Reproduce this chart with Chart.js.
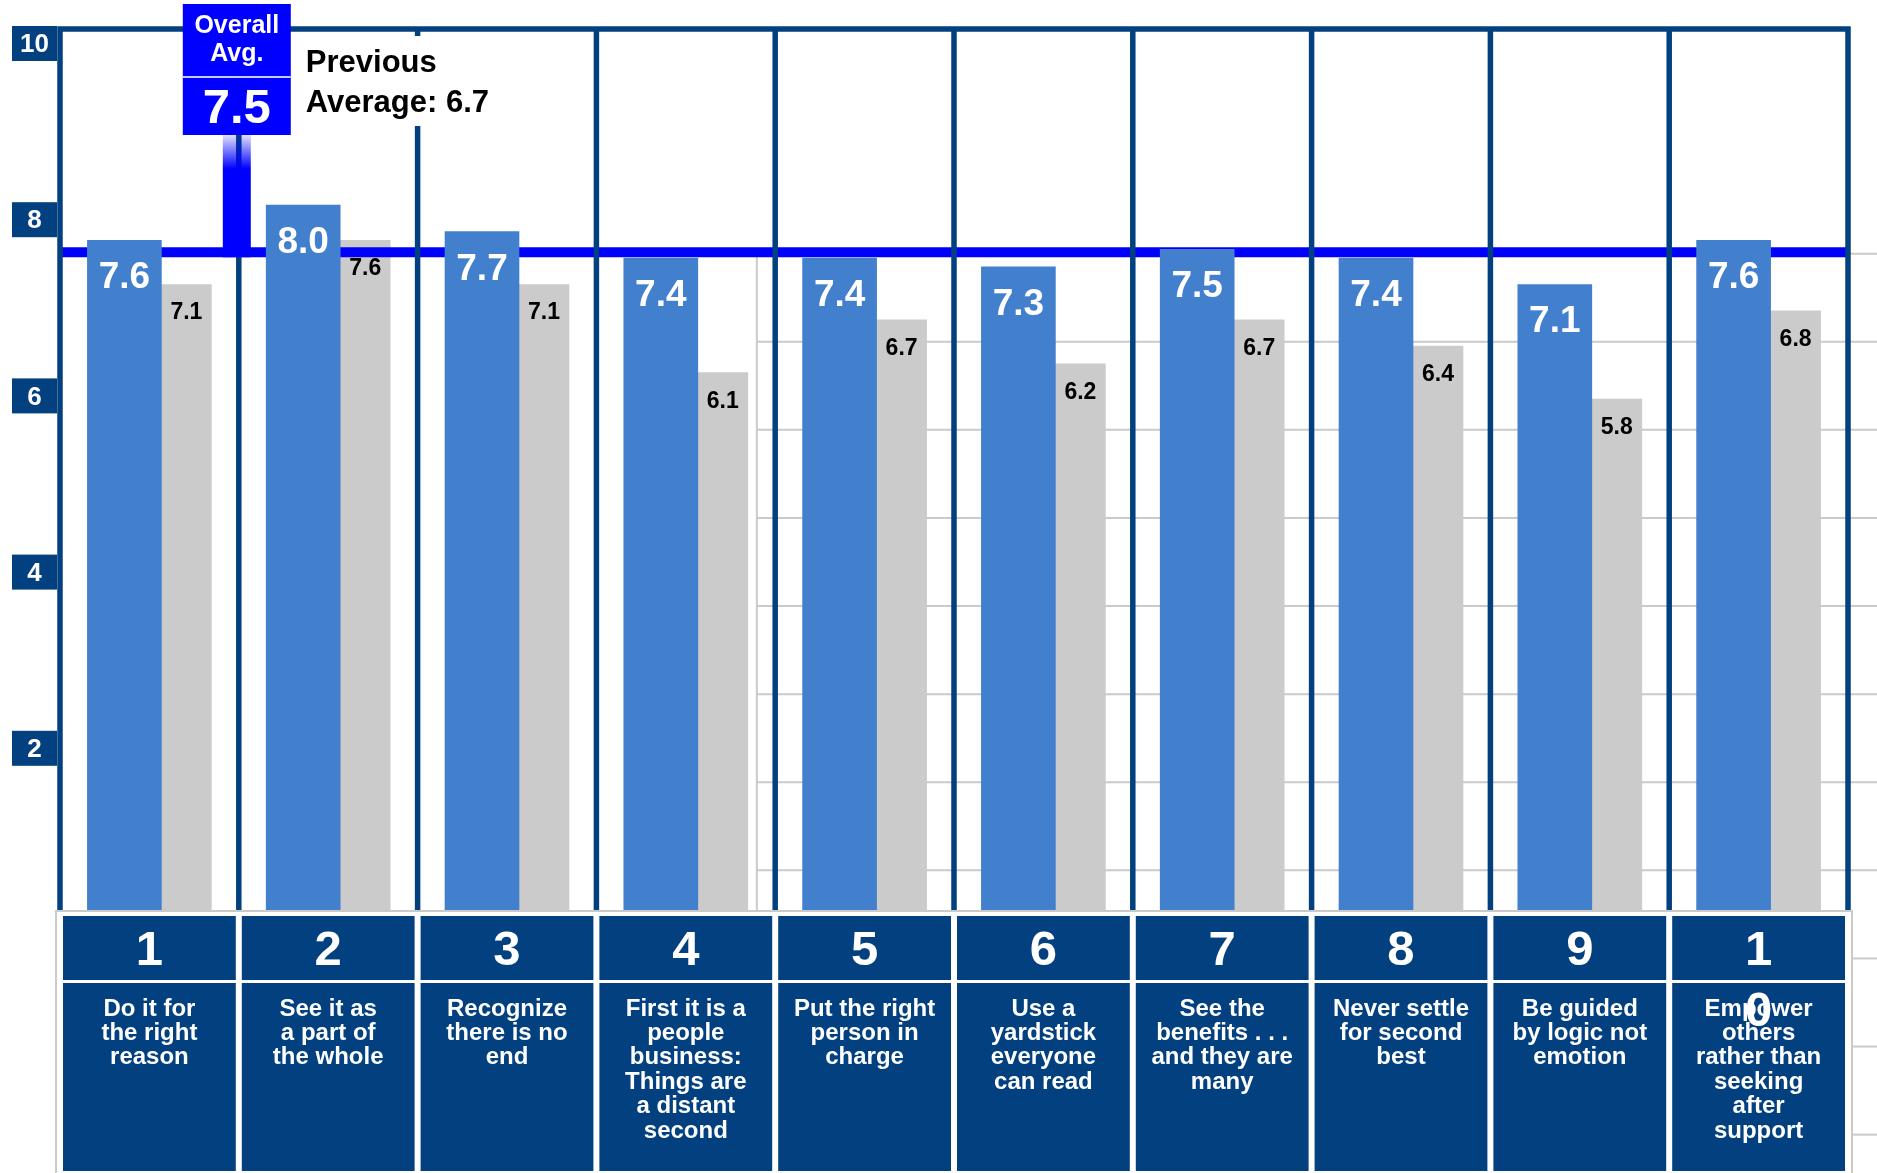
<!DOCTYPE html>
<html lang="en">
<head>
<meta charset="UTF-8">
<title>Principles - Current vs Previous Ratings</title>
<script src="https://cdn.jsdelivr.net/npm/chart.js"></script>
<style>
  html, body { margin: 0; padding: 0; background: #fff; }
  #wrap { width: 1877px; height: 1173px; position: relative; }
</style>
</head>
<body>
<div id="wrap"><canvas id="chart"></canvas></div>
<script>
// data
const numbers = ['1', '2', '3', '4', '5', '6', '7', '8', '9', '10'];
const categories = [
  ['Do it for', 'the right', 'reason'],
  ['See it as', 'a part of', 'the whole'],
  ['Recognize', 'there is no', 'end'],
  ['First it is a', 'people', 'business:', 'Things are', 'a distant', 'second'],
  ['Put the right', 'person in', 'charge'],
  ['Use a', 'yardstick', 'everyone', 'can read'],
  ['See the', 'benefits . . .', 'and they are', 'many'],
  ['Never settle', 'for second', 'best'],
  ['Be guided', 'by logic not', 'emotion'],
  ['Empower', 'others', 'rather than', 'seeking', 'after', 'support']
];
const current = [7.6, 8.0, 7.7, 7.4, 7.4, 7.3, 7.5, 7.4, 7.1, 7.6];
const previous = [7.1, 7.6, 7.1, 6.1, 6.7, 6.2, 6.7, 6.4, 5.8, 6.8];
const overallAvg = 7.5;
const previousAvg = 6.7;
const yTicks = [2, 4, 6, 8, 10];
// faint grid of the chart lying underneath
const bgGrid = [7.45, 6.45, 5.45, 4.45, 3.45, 2.45, 1.45, 0.45, -0.55, -1.55, -2.55];

const NAVY = '#03407F';
const BLUE = '#0000FF';
const FONT = '"Liberation Sans", Arial, sans-serif';

const decor = {
  id: 'decor',
  beforeDatasetsDraw(chart) {
    const { ctx, chartArea: a, scales: { x, y } } = chart;
    const step = x.getPixelForValue(1) - x.getPixelForValue(0);
    const L = a.left - 12, R = a.right - 12;
    ctx.save();
    ctx.strokeStyle = '#CACACA';
    ctx.lineWidth = 2;
    const gx = x.getPixelForValue(3) + step * 0.33;
    bgGrid.forEach(v => {
      const py = y.getPixelForValue(v);
      ctx.beginPath();
      ctx.moveTo(v > 0 ? gx : R + 4, py);
      ctx.lineTo(chart.width, py);
      ctx.stroke();
    });
    ctx.beginPath();
    ctx.moveTo(gx, y.getPixelForValue(bgGrid[0]));
    ctx.lineTo(gx, a.bottom);
    ctx.moveTo(L - 3, a.bottom + 1);
    ctx.lineTo(R + 4, a.bottom + 1);
    ctx.moveTo(L - 4, a.bottom);
    ctx.lineTo(L - 4, chart.height);
    ctx.moveTo(R + 4, a.bottom);
    ctx.lineTo(R + 4, chart.height);
    ctx.stroke();

    // y tick boxes
    ctx.font = 'bold 26px ' + FONT;
    ctx.textAlign = 'center';
    ctx.textBaseline = 'middle';
    yTicks.forEach(t => {
      const py = y.getPixelForValue(t) - 3;
      ctx.fillStyle = NAVY;
      ctx.fillRect(12, py, L - 15, 35);
      ctx.fillStyle = '#fff';
      ctx.fillText(String(t), 12 + (L - 15) / 2, py + 19);
    });
    ctx.restore();
  },
  beforeDatasetDraw(chart, args) {
    if (args.index !== 0) return;
    const { ctx, chartArea: a, scales: { x, y } } = chart;
    const step = x.getPixelForValue(1) - x.getPixelForValue(0);
    const L = a.left - 12, R = a.right - 12;
    const avgY = y.getPixelForValue(overallAvg) + 3;
    ctx.save();
    // overall average line
    ctx.fillStyle = BLUE;
    ctx.fillRect(L, avgY - 5, R - L, 10);

    // frame and dividers
    ctx.strokeStyle = NAVY;
    ctx.lineWidth = 5.5;
    ctx.beginPath();
    ctx.moveTo(L - 2.75, a.top);
    ctx.lineTo(R + 2.75, a.top);
    for (let i = 0; i <= numbers.length; i++) {
      const px = L + i * step;
      ctx.moveTo(px, a.top);
      ctx.lineTo(px, a.bottom);
    }
    ctx.stroke();

    // previous average note
    const b1 = L + step;
    ctx.fillStyle = '#fff';
    ctx.fillRect(b1 + 62, a.top + 7, 200, 90);
    ctx.fillStyle = '#000';
    ctx.font = 'bold 31px ' + FONT;
    ctx.textAlign = 'left';
    ctx.textBaseline = 'middle';
    ctx.fillText('Previous', b1 + 67, a.top + 34);
    ctx.fillText('Average: ' + previousAvg.toFixed(1), b1 + 67, a.top + 74);

    // overall average tag with stem
    const cx = b1 - 2;
    const boxTop = a.top - 25, boxBot = a.top + 106;
    const grad = ctx.createLinearGradient(0, boxBot, 0, boxBot + 34);
    grad.addColorStop(0, 'rgba(0,0,255,0.12)');
    grad.addColorStop(1, BLUE);
    ctx.fillStyle = grad;
    ctx.fillRect(cx - 14, boxBot, 28, 34);
    ctx.fillStyle = BLUE;
    ctx.fillRect(cx - 14, boxBot + 34, 28, avgY + 5 - boxBot - 34);
    ctx.fillRect(cx - 54, boxTop, 108, boxBot - boxTop);
    ctx.fillStyle = '#C8C8FF';
    ctx.fillRect(cx - 54, a.top + 47, 108, 2);
    ctx.fillStyle = '#fff';
    ctx.textAlign = 'center';
    ctx.font = 'bold 25px ' + FONT;
    ctx.fillText('Overall', cx, a.top - 3);
    ctx.fillText('Avg.', cx, a.top + 25);
    ctx.font = 'bold 49px ' + FONT;
    ctx.fillText(overallAvg.toFixed(1), cx, a.top + 80);
    ctx.restore();
  },
  afterDatasetsDraw(chart) {
    const { ctx, chartArea: a, scales: { x } } = chart;
    const step = x.getPixelForValue(1) - x.getPixelForValue(0);
    const L = a.left - 12;
    ctx.save();
    ctx.textAlign = 'center';
    ctx.textBaseline = 'alphabetic';

    // value labels
    chart.getDatasetMeta(0).data.forEach((bar, i) => {
      ctx.fillStyle = '#fff';
      ctx.font = 'bold 37px ' + FONT;
      ctx.fillText(current[i].toFixed(1), bar.x, bar.y + 48);
    });
    chart.getDatasetMeta(1).data.forEach((bar, i) => {
      ctx.fillStyle = '#000';
      ctx.font = 'bold 23px ' + FONT;
      ctx.fillText(previous[i].toFixed(1), bar.x, bar.y + 35);
    });

    // category boxes under the plot
    ctx.textBaseline = 'middle';
    const numTop = a.bottom + 6, numBot = a.bottom + 70;
    const descTop = a.bottom + 73, descBot = chart.height - 2;
    numbers.forEach((n, i) => {
      const x0 = L + i * step + 3, x1 = L + (i + 1) * step - 3;
      const mid = (x0 + x1) / 2;
      ctx.fillStyle = NAVY;
      ctx.fillRect(x0, numTop, x1 - x0, numBot - numTop);
      ctx.fillRect(x0, descTop, x1 - x0, descBot - descTop);
      ctx.fillStyle = '#fff';
      ctx.font = 'bold 24px ' + FONT;
      categories[i].forEach((line, k) => {
        ctx.fillText(line, mid, a.bottom + 99 + k * 24.4);
      });
      ctx.font = 'bold 49px ' + FONT;
      n.split('').forEach((ch, k) => {
        ctx.fillText(ch, mid, a.bottom + 41 + k * 61);
      });
    });
    ctx.restore();
  }
};

const ctx = document.getElementById('chart').getContext('2d');
new Chart(ctx, {
  type: 'bar',
  data: {
    labels: numbers,
    datasets: [
      { label: 'Current', data: current, backgroundColor: '#4280CD', barThickness: 74, borderWidth: 0 },
      { label: 'Previous', data: previous, backgroundColor: '#CBCBCB', barThickness: 50, borderWidth: 0 }
    ]
  },
  options: {
    responsive: true,
    maintainAspectRatio: false,
    animation: false,
    layout: { padding: { left: 72, right: 17, top: 29, bottom: 263 } },
    plugins: { legend: { display: false }, tooltip: { enabled: false } },
    scales: {
      x: { display: false },
      y: { display: false, min: 0, max: 10 }
    }
  },
  plugins: [decor]
});
</script>
</body>
</html>
